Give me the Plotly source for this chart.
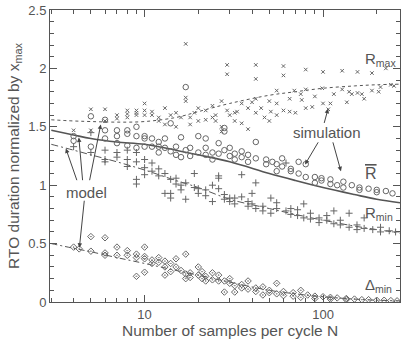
import plotly.graph_objects as go
import numpy as np

# ---------------- data ----------------
# model curves
model_N = [3, 4, 5, 7, 10, 15, 20, 30, 50, 70, 100, 150, 200, 270]
model_rmax = [1.56, 1.55, 1.545, 1.54, 1.545, 1.58, 1.63, 1.70, 1.77, 1.80, 1.83, 1.85, 1.86, 1.865]
model_rbar = [1.47, 1.43, 1.40, 1.37, 1.35, 1.30, 1.26, 1.20, 1.10, 1.04, 0.98, 0.92, 0.88, 0.85]
model_rmin = [1.35, 1.30, 1.26, 1.20, 1.13, 1.04, 0.98, 0.88, 0.80, 0.75, 0.70, 0.65, 0.62, 0.59]
model_dmin = [0.50, 0.46, 0.43, 0.38, 0.33, 0.27, 0.23, 0.17, 0.10, 0.07, 0.045, 0.025, 0.015, 0.01]

# simulation: R_max
sim_rmax_N = [4, 5, 5, 6, 6, 7, 7, 8, 8, 8, 9, 9, 9, 10, 10, 10, 11, 11, 12, 12, 13, 13, 14,
              15, 15, 16, 17, 17, 17, 18, 18, 19, 20, 20, 22, 22, 24, 24, 25, 25, 27, 27, 27,
              29, 29, 29, 30, 32, 32, 33, 35, 35, 38, 38, 40, 42, 42, 42, 42, 45, 47, 50, 50,
              51, 55, 55, 55, 60, 60, 60, 65, 65, 69, 70, 75, 76, 80, 80, 80, 87, 90, 99, 100,
              100, 107, 110, 115, 128, 128, 136, 140, 145, 156, 156, 165, 170, 188, 188, 205,
              210, 225, 240, 250]
sim_rmax_v = [1.47, 1.65, 1.47, 1.65, 1.55, 1.60, 1.57, 1.64, 1.61, 1.58, 1.64, 1.62, 1.60,
              1.70, 1.64, 1.60, 1.63, 1.60, 1.58, 1.55, 1.66, 1.52, 1.60, 1.62, 1.50, 1.58,
              2.21, 1.75, 1.72, 1.58, 1.52, 1.62, 1.66, 1.55, 1.56, 1.64, 1.68, 1.58, 1.60,
              1.55, 1.72, 1.50, 1.46, 2.03, 1.95, 1.64, 1.60, 1.55, 1.62, 1.63, 1.53, 1.70,
              1.66, 1.48, 1.71, 2.03, 1.91, 1.74, 1.62, 1.66, 1.58, 1.72, 1.55, 1.63, 1.81,
              1.70, 1.60, 2.02, 1.94, 1.64, 1.74, 1.63, 1.81, 1.62, 1.78, 1.73, 1.99, 1.82,
              1.66, 1.67, 1.76, 1.83, 1.97, 1.70, 1.65, 1.70, 1.78, 1.98, 1.82, 1.71, 1.80,
              1.78, 1.97, 1.79, 1.78, 1.74, 1.96, 1.81, 1.80, 1.84, 2.00, 1.86, 1.85]

# simulation: mean R
sim_rbar_N = [4, 4, 5, 5, 6, 6, 6, 7, 7, 7, 8, 8, 8, 9, 9, 9, 10, 10, 10, 11, 11, 12, 12, 12,
              13, 13, 14, 14, 15, 15, 16, 16, 17, 17, 18, 18, 20, 20, 22, 22, 22, 24, 24, 26,
              26, 28, 28, 28, 30, 30, 32, 32, 35, 35, 38, 38, 42, 42, 48, 48, 52, 55, 55, 59,
              59, 66, 66, 73, 73, 80, 80, 90, 90, 98, 98, 110, 110, 120, 130, 130, 145, 160,
              160, 180, 200, 200, 225, 245]
sim_rbar_v = [1.42, 1.38, 1.59, 1.33, 1.56, 1.40, 1.47, 1.47, 1.42, 1.36, 1.47, 1.34, 1.44,
              1.50, 1.42, 1.32, 1.42, 1.40, 1.33, 1.40, 1.33, 1.33, 1.28, 1.37, 1.40, 1.32,
              1.29, 1.53, 1.26, 1.33, 1.24, 1.41, 1.84, 1.30, 1.32, 1.25, 1.42, 1.28, 1.40,
              1.32, 1.26, 1.28, 1.22, 1.36, 1.27, 1.49, 1.46, 1.30, 1.25, 1.32, 1.27, 1.22,
              1.29, 1.24, 1.26, 1.20, 1.37, 1.23, 1.22, 1.18, 1.20, 1.18, 1.12, 1.23, 1.16,
              1.12, 1.14, 1.20, 1.10, 1.18, 1.07, 1.07, 1.02, 1.06, 1.04, 1.01, 1.05, 1.00,
              1.03, 0.98, 1.00, 0.98, 0.96, 0.97, 0.96, 0.94, 0.95, 0.93]

# simulation: R_min
sim_rmin_N = [4, 5, 5, 6, 6, 6, 7, 7, 8, 8, 8, 9, 9, 9, 9, 10, 10, 10, 11, 11, 12, 12, 13, 13,
              14, 14, 14, 15, 15, 16, 16, 17, 17, 19, 19, 20, 20, 22, 22, 24, 24, 26, 26, 26,
              28, 28, 30, 30, 32, 32, 35, 35, 38, 38, 40, 40, 42, 42, 46, 46, 51, 51, 55, 55,
              62, 62, 66, 66, 72, 72, 78, 78, 85, 85, 95, 95, 105, 105, 115, 115, 125, 125,
              140, 140, 155, 155, 170, 170, 190, 210, 210, 235, 255]
sim_rmin_v = [1.33, 1.45, 1.28, 1.22, 1.20, 1.30, 1.28, 1.24, 1.30, 1.22, 1.16, 1.28, 1.20,
              1.05, 1.01, 1.22, 1.15, 1.09, 1.19, 1.12, 1.14, 1.08, 1.10, 0.93, 0.93, 0.89,
              1.05, 1.01, 1.06, 1.00, 0.96, 0.88, 1.02, 1.10, 0.98, 0.93, 0.97, 0.91, 0.96,
              0.86, 1.00, 1.06, 0.97, 1.08, 0.92, 0.88, 0.89, 0.86, 0.89, 0.84, 1.09, 0.90,
              0.86, 0.82, 0.93, 0.84, 1.02, 0.80, 0.82, 0.78, 0.89, 0.76, 0.85, 0.80, 1.19,
              0.78, 0.75, 0.80, 0.74, 0.79, 0.84, 0.72, 0.71, 0.76, 0.72, 0.68, 0.74, 0.70,
              0.78, 0.67, 0.70, 0.66, 0.76, 0.64, 0.66, 0.62, 0.72, 0.63, 0.62, 0.64, 0.60,
              0.61, 0.60]

# simulation: Delta_min
sim_dmin_N = [4, 4.3, 5, 5, 6, 6, 6, 7, 7, 8, 8, 9, 9, 9, 10, 10, 10, 10, 11, 11, 12, 12, 13,
              13, 13, 14, 14, 15, 15, 16, 17, 17, 17, 18, 18, 20, 20, 21, 21, 22, 22, 24, 24,
              26, 26, 28, 28, 30, 30, 32, 32, 35, 35, 38, 38, 42, 42, 46, 46, 50, 50, 55, 55,
              60, 60, 68, 68, 75, 75, 82, 90, 90, 100, 110, 110, 120, 135, 135, 150, 165, 180,
              200, 220, 240, 260]
sim_dmin_v = [0.47, 0.455, 0.56, 0.435, 0.55, 0.42, 0.40, 0.47, 0.40, 0.44, 0.40, 0.41, 0.38,
              0.22, 0.47, 0.39, 0.37, 0.255, 0.36, 0.33, 0.38, 0.34, 0.35, 0.30, 0.23, 0.33,
              0.26, 0.37, 0.30, 0.27, 0.41, 0.20, 0.24, 0.25, 0.21, 0.30, 0.23, 0.26, 0.20,
              0.22, 0.18, 0.25, 0.19, 0.23, 0.18, 0.18, 0.085, 0.16, 0.20, 0.14, 0.085, 0.15,
              0.12, 0.18, 0.11, 0.12, 0.09, 0.13, 0.06, 0.10, 0.08, 0.16, 0.07, 0.055, 0.09,
              0.08, 0.05, 0.10, 0.04, 0.06, 0.05, 0.03, 0.045, 0.04, 0.025, 0.035, 0.03, 0.02,
              0.025, 0.02, 0.02, 0.015, 0.015, 0.012, 0.01]

y_ticks = [0, 0.5, 1, 1.5, 2, 2.5]
y_ticktext = ["0", "0.5", "1", "1.5", "2", "2.5"]
x_ticks = [10, 100]
x_ticktext = ["10", "100"]

# ---------------- figure ----------------
INK = "#555555"
MARK = "#666666"
FONT = "Liberation Sans, Arial, sans-serif"

fig = go.Figure()

def line(xs, ys, dash, width):
    fig.add_trace(go.Scatter(x=xs, y=ys, mode="lines", line=dict(color=INK, width=width, dash=dash, shape="spline"),
                             hoverinfo="skip", showlegend=False))

line(model_N, model_rmax, "3px,3px", 1)
line(model_N, model_rbar, "solid", 1.6)
line(model_N, model_rmin, "7px,3px,2px,3px", 1)
line(model_N, model_dmin, "6px,3px,2px,3px", 1)

def pts(xs, ys, symbol, size, width=1):
    fig.add_trace(go.Scatter(x=xs, y=ys, mode="markers",
                             marker=dict(symbol=symbol, size=size, color=MARK,
                                         line=dict(color=MARK, width=width)),
                             showlegend=False))

pts(sim_rmax_N, sim_rmax_v, "x-thin", 3.5, 1)
pts(sim_rbar_N, sim_rbar_v, "circle-open", 5.5, 1)
pts(sim_rmin_N, sim_rmin_v, "cross-thin", 5, 1)
pts(sim_dmin_N, sim_dmin_v, "diamond-open-dot", 5, 1)

L = np.log10
txt = dict(family=FONT, size=15, color=INK)
LBL_X = L(168)
ann = []
# labels on the right
ann.append(dict(x=LBL_X, y=2.08, text="R<sub>max</sub>", showarrow=False, xanchor="left", yanchor="middle", font=txt))
ann.append(dict(x=LBL_X, y=1.10, text="<span style='text-decoration:overline'>R</span>", showarrow=False,
                xanchor="left", yanchor="middle", font=dict(family=FONT, size=16, color=INK)))
ann.append(dict(x=LBL_X, y=0.76, text="R<sub>min</sub>", showarrow=False, xanchor="left", yanchor="middle", font=txt))
ann.append(dict(x=LBL_X, y=0.145, text="\u0394<sub>min</sub>", showarrow=False, xanchor="left", yanchor="middle", font=txt))
# model / simulation
ann.append(dict(x=L(4.74), y=0.94, text="model", showarrow=False, font=txt))
ann.append(dict(x=L(105), y=1.45, text="simulation", showarrow=False, font=txt))

arrow_style = dict(showarrow=True, arrowhead=2, arrowsize=0.9, arrowwidth=1, arrowcolor="#444444",
                   axref="x", ayref="y", text="")
# model arrows: (tip N, tip y, tail N, tail y)
model_arrows = [(3.62, 1.314, 4.2, 1.03), (4.28, 1.408, 4.5, 1.03), (5.68, 1.52, 4.9, 1.03),
                (4.31, 0.465, 4.6, 0.88)]
for tn, ty, sn, sy in model_arrows:
    ann.append(dict(x=L(tn), y=ty, ax=L(sn), ay=sy, **arrow_style))
sim_arrows = [(106.7, 1.654, 101, 1.52), (79.3, 1.178, 95, 1.38), (126, 1.119, 113, 1.38)]
for tn, ty, sn, sy in sim_arrows:
    ann.append(dict(x=L(tn), y=ty, ax=L(sn), ay=sy, **arrow_style))

# axis titles
ann.append(dict(xref="paper", yref="paper", x=-0.103, y=0.50, xanchor="center", yanchor="middle",
                textangle=-90, showarrow=False,
                text="RTO duration normalized by x<sub>max</sub>", font=dict(family=FONT, size=15.5, color=INK)))
ann.append(dict(xref="paper", yref="paper", x=0.513, y=-0.096, xanchor="center", yanchor="middle", showarrow=False,
                text="Number of samples per cycle N", font=dict(family=FONT, size=15.5, color=INK)))

minor_x = [3, 4, 5, 6, 7, 8, 9, 20, 30, 40, 50, 60, 70, 80, 90, 200]
minor_y = [v / 10 for v in range(0, 26) if v % 5 != 0]

fig.update_layout(
    width=404, height=349,
    margin=dict(l=50, r=3, t=7, b=47),
    paper_bgcolor="white", plot_bgcolor="white",
    annotations=ann,
    font=dict(family=FONT, color=INK, size=13),
    xaxis=dict(type="log", range=[L(2.95), L(270)], tickmode="array", tickvals=x_ticks, ticktext=x_ticktext,
               ticks="inside", ticklen=7, tickwidth=1, tickcolor=INK, showgrid=False, zeroline=False,
               showline=True, linecolor=INK, linewidth=1, mirror="allticks", ticklabeloverflow="allow",
               tickfont=dict(family=FONT, size=13, color=INK),
               minor=dict(tickmode="array", tickvals=minor_x, ticks="inside", ticklen=4, tickcolor=INK, showgrid=False)),
    yaxis=dict(range=[0, 2.5], tickmode="array", tickvals=y_ticks, ticktext=y_ticktext,
               ticks="inside", ticklen=7, tickwidth=1, tickcolor=INK, showgrid=False, zeroline=False,
               showline=True, linecolor=INK, linewidth=1, mirror="allticks", ticklabeloverflow="allow",
               tickfont=dict(family=FONT, size=13, color=INK),
               minor=dict(tickmode="array", tickvals=minor_y, ticks="inside", ticklen=4, tickcolor=INK, showgrid=False)),
)

fig.write_html("out.html", config={"displayModeBar": False},
               post_script="document.body.style.margin='0';document.body.style.padding='0';")
